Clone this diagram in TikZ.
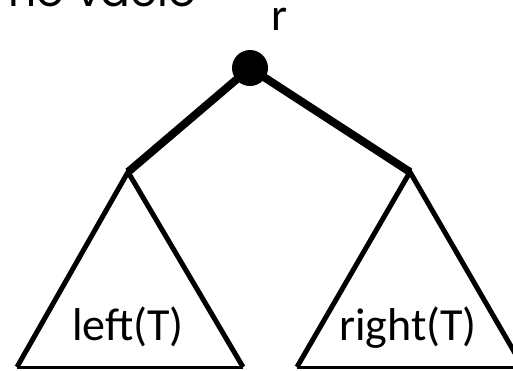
\documentclass[tikz,border=0pt]{standalone}
\usepackage{fontspec}
\setmainfont{Carlito}
\newfontfamily\headfont{Poppins}
\begin{document}
\begin{tikzpicture}[x=1pt,y=-1pt,
  thickedge/.style={line width=8pt,line cap=butt},
  tri/.style={line width=5pt,line join=miter},
  baseline/.style={line width=3pt},
  lbl/.style={font=\fontsize{46}{50}\selectfont,inner sep=0pt,anchor=base}]
\useasboundingbox (0,0) rectangle (513,370);
\clip (0,0) rectangle (513,370);
\node[font=\headfont\fontsize{44}{48}\selectfont,inner sep=0pt,anchor=base west] (head) at (8,6) {no vacío};
\node[circle,fill=black,minimum size=36pt,inner sep=0pt] (root) at (250,68) {};
\node[lbl] (rlab) at (280,30) {r};
\coordinate (la) at (128,172);
\coordinate (ra) at (410,172);
\coordinate (lbl1) at (17,367);
\coordinate (lbr) at (243,367);
\coordinate (rbl) at (297,367);
\coordinate (rbr) at (523,367);
\draw[thickedge] (root.center) -- (la);
\draw[thickedge] (root.center) -- (ra);
\draw[tri] (lbl1) -- (la) -- (lbr);
\draw[tri] (rbl) -- (ra) -- (rbr);
\draw[baseline] (lbl1) -- (lbr);
\draw[baseline] (rbl) -- (rbr);
\node[lbl] (ltxt) at (128,340) {left(T)};
\node[lbl] (rtxt) at (408,340) {right(T)};
\end{tikzpicture}
\end{document}
